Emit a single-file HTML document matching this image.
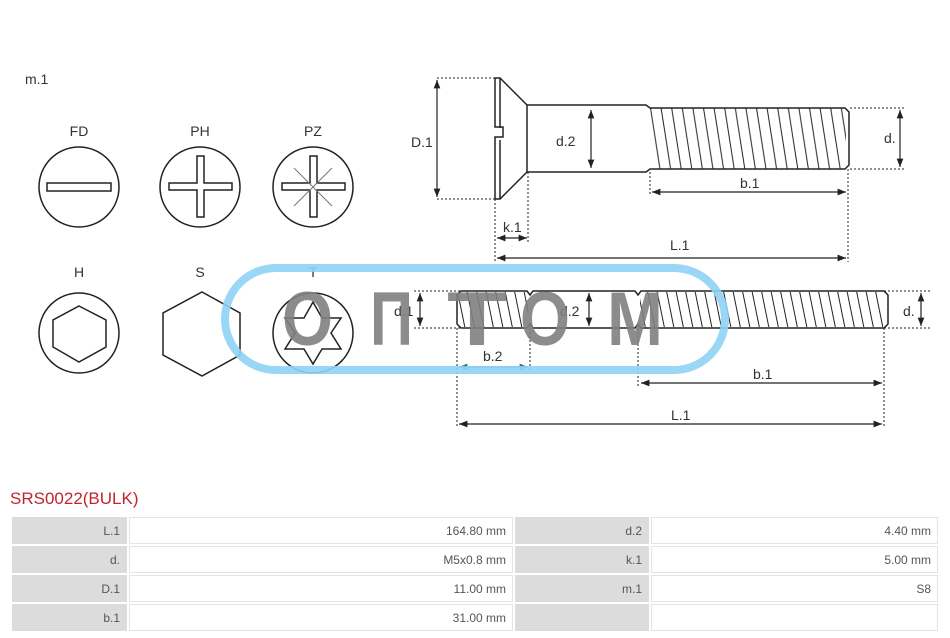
<!DOCTYPE html>
<html><head><meta charset="utf-8"><style>
html,body{margin:0;padding:0;background:#fff;}
body{width:950px;height:638px;position:relative;overflow:hidden;font-family:"Liberation Sans","DejaVu Sans",sans-serif;}
svg{position:absolute;left:0;top:0;}
.title{position:absolute;left:10px;top:489px;font-size:17px;color:#c0262d;}
table{position:absolute;left:10px;top:515px;width:930px;border-collapse:separate;border-spacing:2px;font-size:12px;color:#555;}
td{height:25px;text-align:right;padding:0 6px;border:1px solid #e4e4e4;background:#fff;}
td.l{background:#dcdcdc;border-color:#dcdcdc;}
</style></head><body>
<svg width="950" height="480" viewBox="0 0 950 480" font-family="Liberation Sans, DejaVu Sans, sans-serif">
<defs>
<pattern id="th1" patternUnits="userSpaceOnUse" x="650" y="108" width="10.6" height="61"><line x1="0.5" y1="0" x2="10" y2="61" stroke="#222" stroke-width="1"/></pattern>
<pattern id="th2" patternUnits="userSpaceOnUse" x="457" y="291" width="9.5" height="37"><line x1="0.5" y1="0" x2="8" y2="37" stroke="#222" stroke-width="1"/></pattern>
<marker id="a" viewBox="0 0 10 10" refX="10" refY="5" markerWidth="7" markerHeight="7" orient="auto-start-reverse"><path d="M0,1 L10,5 L0,9 z" fill="#222"/></marker>
<marker id="ab" viewBox="0 0 10 10" refX="10" refY="5" markerWidth="7" markerHeight="7" orient="auto-start-reverse"><path d="M0,1 L10,5 L0,9 z" fill="#2a6f8a"/></marker>
</defs>
<g fill="#333" font-size="14">
<text x="25" y="84">m.1</text>
<text x="79" y="136" text-anchor="middle">FD</text>
<text x="200" y="136" text-anchor="middle">PH</text>
<text x="313" y="136" text-anchor="middle">PZ</text>
<text x="79" y="277" text-anchor="middle">H</text>
<text x="200" y="277" text-anchor="middle">S</text>
<text x="313" y="277" text-anchor="middle">T</text>
</g>
<g fill="none" stroke="#222" stroke-width="1.5">
<circle cx="79" cy="187" r="40"/>
<rect x="47" y="183" width="64" height="8"/>
<circle cx="200" cy="187" r="40"/>
<path d="M197,156 h7 v27 h28 v7 h-28 v27 h-7 v-27 h-28 v-7 h28 z"/>
<circle cx="313" cy="187" r="40"/>
<path d="M310,156 h7 v27 h28 v7 h-28 v27 h-7 v-27 h-28 v-7 h28 z"/>
<g stroke="#777" stroke-width="1"><line x1="294" y1="168" x2="332" y2="206"/><line x1="332" y1="168" x2="294" y2="206"/></g>
<circle cx="79" cy="333" r="40"/>
<polygon points="79,306 106,320 106,347 79,362 53,347 53,320"/>
<polygon points="202,292 240,313 240,355 202,376 163,355 163,313"/>
<circle cx="313" cy="333" r="40"/>
<polygon points="313,302 322,318 341,318 331,333 341,349 322,349 313,364 304,349 285,349 295,333 285,318 304,318"/>
</g>
<!-- top screw -->
<g stroke="#222" stroke-width="1.5" fill="#fff">
<path d="M495,78 h5 l27,27 h119 l4,3 h195 l4,4 v53 l-4,4 h-195 l-4,3 h-119 l-27,27 h-5 v-62 h8 v-10 h-8 z"/>
<rect x="650" y="108" width="196" height="61" fill="url(#th1)" stroke="none"/>
<line x1="500" y1="78" x2="500" y2="128" fill="none"/><line x1="500" y1="140" x2="500" y2="199" fill="none"/>
<line x1="527" y1="105" x2="527" y2="172"/>
</g>
<g stroke="#222" stroke-width="1" stroke-dasharray="2,2" fill="none">
<path d="M437,78 H495 M437,199 H495 M850,108 H905 M850,169 H905 M495,199 V262 M528,172 V242 M650,172 V196 M848,169 V262"/>
</g>
<g stroke="#222" stroke-width="1.2" fill="none" marker-start="url(#a)" marker-end="url(#a)">
<line x1="437" y1="80" x2="437" y2="197"/>
<line x1="591" y1="110" x2="591" y2="168"/>
<line x1="900" y1="110" x2="900" y2="167"/>
<line x1="652" y1="192" x2="846" y2="192"/>
<line x1="497" y1="238" x2="527" y2="238"/>
<line x1="497" y1="258" x2="846" y2="258"/>
</g>
<g fill="#333" font-size="14">
<text x="411" y="147">D.1</text><text x="556" y="146">d.2</text><text x="884" y="143">d.</text>
<text x="740" y="188">b.1</text><text x="503" y="232">k.1</text><text x="670" y="250">L.1</text>
</g>
<!-- bottom screw -->
<g stroke="#222" stroke-width="1.5" fill="#fff">
<path d="M461,291 h66 l3,4 l3,-4 h102 l3,4 l3,-4 h243 l4,4 v29 l-4,4 h-243 l-3,-4 l-3,4 h-102 l-3,-4 l-3,4 h-66 l-4,-4 v-29 z"/>
<rect x="458" y="292" width="70" height="35" fill="url(#th2)" stroke="none"/>
<rect x="640" y="292" width="243" height="35" fill="url(#th2)" stroke="none"/>
</g>
<g stroke="#222" stroke-width="1" stroke-dasharray="2,2" fill="none">
<path d="M414,291 H461 M414,328 H461 M884,291 H930 M884,328 H930 M457,328 V428 M530,328 V370 M638,328 V388 M884,328 V428"/>
</g>
<g stroke="#222" stroke-width="1.2" fill="none" marker-start="url(#a)" marker-end="url(#a)">
<line x1="420" y1="293" x2="420" y2="326"/>
<line x1="589" y1="293" x2="589" y2="326"/>
<line x1="921" y1="293" x2="921" y2="326"/>
<line x1="641" y1="383" x2="882" y2="383"/>
<line x1="459" y1="424" x2="882" y2="424"/>
</g>
<line x1="459" y1="367" x2="528" y2="367" stroke="#2a6f8a" stroke-width="1.2" marker-start="url(#ab)" marker-end="url(#ab)"/>
<g fill="#333" font-size="14">
<text x="394" y="316">d.1</text><text x="560" y="316">d.2</text><text x="903" y="316">d.</text>
<text x="483" y="361">b.2</text><text x="753" y="379">b.1</text><text x="671" y="420">L.1</text>
</g>
<!-- watermark -->
<rect x="225" y="268" width="500" height="102" rx="51" fill="none" stroke="#8fd3f5" stroke-width="8" opacity="0.9"/>
<g fill="#808080" fill-opacity="0.9" font-size="76" font-weight="bold" font-family="Liberation Sans, DejaVu Sans, sans-serif">
<text x="282" y="345" textLength="51" lengthAdjust="spacingAndGlyphs">О</text>
<text x="370" y="345" textLength="43" lengthAdjust="spacingAndGlyphs">П</text>
<text x="447" y="345" textLength="60" lengthAdjust="spacingAndGlyphs">Т</text>
<text x="520" y="345" textLength="50" lengthAdjust="spacingAndGlyphs">О</text>
<text x="607" y="345" textLength="56" lengthAdjust="spacingAndGlyphs">М</text>
</g>
</svg>
<div class="title">SRS0022(BULK)</div>
<table>
<tr><td class="l" style="width:101px">L.1</td><td style="width:370px">164.80 mm</td><td class="l" style="width:120px">d.2</td><td>4.40 mm</td></tr>
<tr><td class="l">d.</td><td>M5x0.8 mm</td><td class="l">k.1</td><td>5.00 mm</td></tr>
<tr><td class="l">D.1</td><td>11.00 mm</td><td class="l">m.1</td><td>S8</td></tr>
<tr><td class="l">b.1</td><td>31.00 mm</td><td class="l"></td><td></td></tr>
</table>
</body></html>
